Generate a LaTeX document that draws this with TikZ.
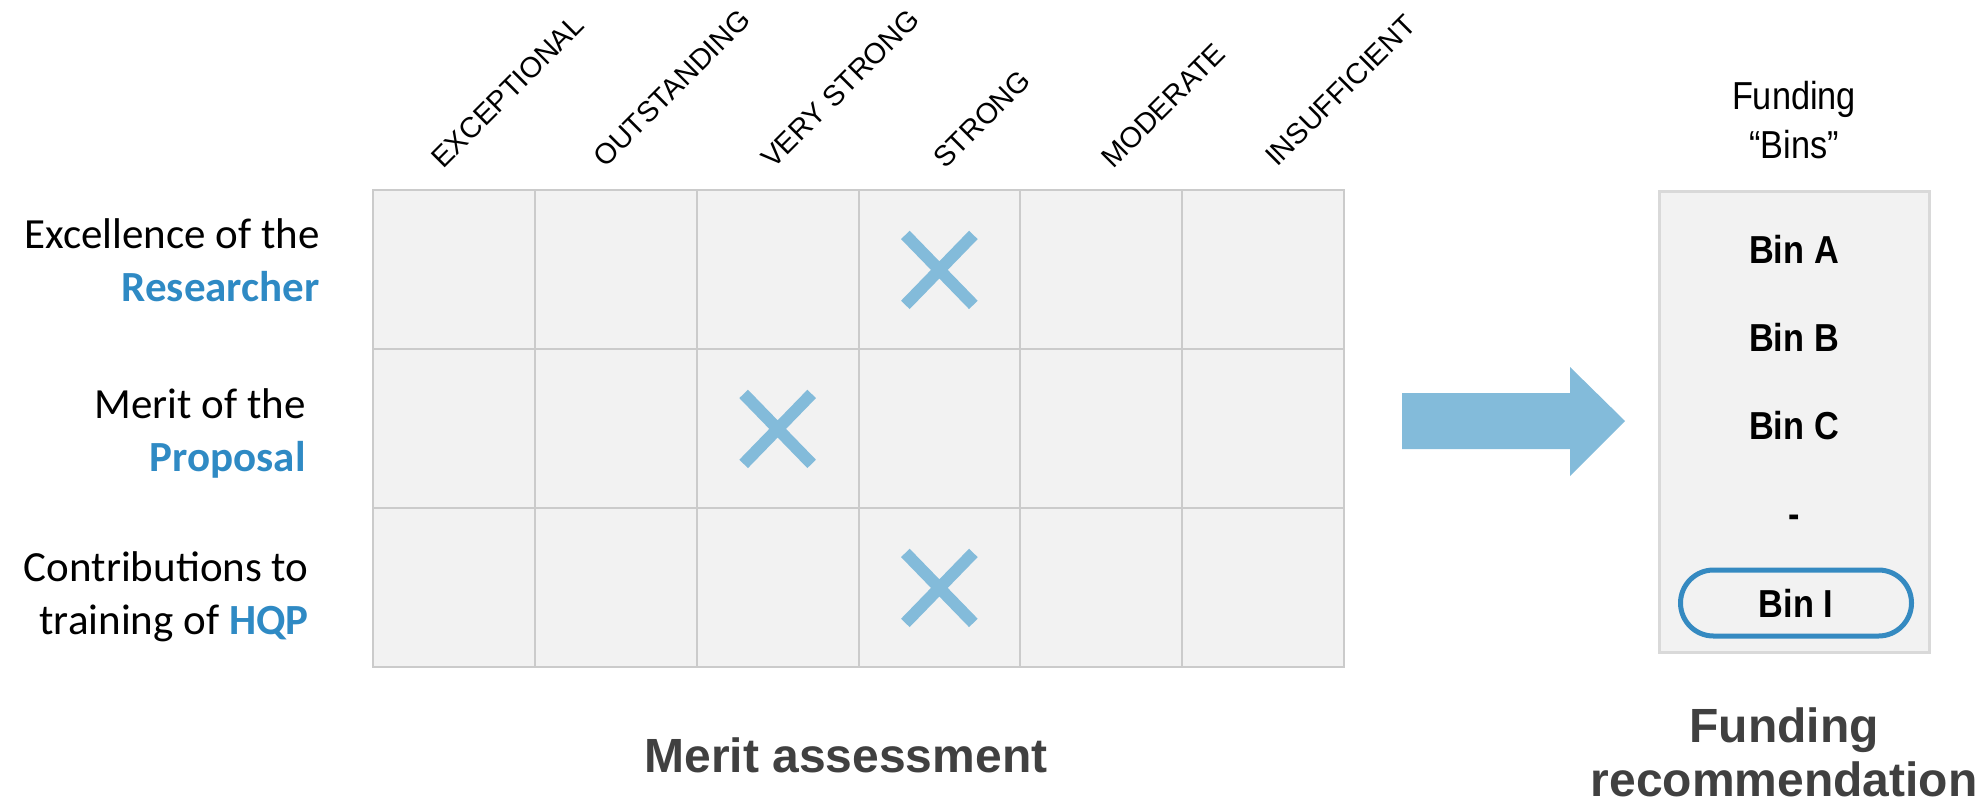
\documentclass[tikz,border=0pt]{standalone}
\usepackage{fontspec}
\setmainfont{Liberation Sans}
\newfontfamily\narrowfont{Liberation Sans}[FakeStretch=0.88]
\newfontfamily\critfont{Carlito}
\usepackage{tikz}
\usetikzlibrary{positioning,shapes.misc}

\definecolor{cellfill}{HTML}{F2F2F2}
\definecolor{gridline}{HTML}{CBCBCB}
\definecolor{binline}{HTML}{D9D9D9}
\definecolor{xblue}{HTML}{83BBDA}
\definecolor{critblue}{HTML}{2F8AC4}
\definecolor{pillblue}{HTML}{358AC1}
\definecolor{titlegrey}{HTML}{404040}

\begin{document}
\begin{tikzpicture}[x=0.5pt,y=-0.5pt,
cell/.style={draw=gridline,fill=cellfill,line width=1pt,minimum width=80.85pt,minimum height=79.5pt,inner sep=0pt,outer sep=0pt},
head/.style={rotate=45,anchor=base west,inner sep=0pt,font=\fontsize{14.4}{17}\selectfont},
crit/.style={anchor=east,align=right,inner sep=0pt,font=\critfont\fontsize{21.5}{26.5}\selectfont},
xmark/.style={cross out,draw=xblue,line width=6pt,minimum width=34pt,minimum height=35pt,inner sep=0pt,outer sep=0pt},
binlabel/.style={inner sep=0pt,font=\narrowfont\bfseries\fontsize{19.5}{23}\selectfont},
title/.style={align=center,inner sep=0pt,text=titlegrey,font=\bfseries\fontsize{24}{27}\selectfont}]
\useasboundingbox (0,0) rectangle (1981,805);

% merit grid
\matrix (grid) [anchor=north west,inner sep=0pt,row sep=-1pt,column sep=-1pt] at (372,189) {
\node (r1c1) [cell] {}; & \node (r1c2) [cell] {}; & \node (r1c3) [cell] {}; &
\node (r1c4) [cell] {}; & \node (r1c5) [cell] {}; & \node (r1c6) [cell] {}; \\
\node (r2c1) [cell] {}; & \node (r2c2) [cell] {}; & \node (r2c3) [cell] {}; &
\node (r2c4) [cell] {}; & \node (r2c5) [cell] {}; & \node (r2c6) [cell] {}; \\
\node (r3c1) [cell] {}; & \node (r3c2) [cell] {}; & \node (r3c3) [cell] {}; &
\node (r3c4) [cell] {}; & \node (r3c5) [cell] {}; & \node (r3c6) [cell] {}; \\
};

\node (hexc) [head] at (443,170) {EXCEPTIONAL};
\node (hout) [head] at (605,169) {OUTSTANDING};
\node (hvst) [head] at (773,170) {VERY STRONG};
\node (hstr) [head] at (945,170) {STRONG};
\node (hmod) [head] at (1113,170) {MODERATE};
\node (hins) [head] at (1277,168) {INSUFFICIENT};

\node (crit1) [crit] at (320,260) {Excellence of the\\\textcolor{critblue}{\bfseries Researcher}};
\node (crit2) [crit] at (306,433) {Merit of the\\\textcolor{critblue}{\bfseries Proposal}};
\node (crit3) [crit] at (309,597) {Contributions to\\training of \textcolor{critblue}{\bfseries HQP}};

\node (mark1) [xmark] at (r1c4) {};
\node (mark2) [xmark] at (r2c3) {};
\node (mark3) [xmark] at (r3c4) {};

% arrow to the bins
\fill[xblue] (1402,393) -- (1570,393) -- (1570,367) -- (1625,421) -- (1570,476) -- (1570,449) -- (1402,449) -- cycle;

% funding bins
\node (binbox) [draw=binline,fill=cellfill,line width=1.5pt,minimum width=135pt,minimum height=230.5pt,inner sep=0pt] at (1794,422) {};
\node (binhead) [align=center,inner sep=0pt,font=\narrowfont\fontsize{19.5}{24.5}\selectfont] at (1794,120) {Funding\\“Bins”};
\node (bina) [binlabel] at (1794,249) {Bin A};
\node (binb) [binlabel] at (1794,337) {Bin B};
\node (binc) [binlabel] at (1794,426) {Bin C};
\node (bindash) [binlabel] at (1794,521) {-};
\node (bini) [binlabel,rounded rectangle,draw=pillblue,line width=2.5pt,minimum width=115.5pt,minimum height=33pt] at (1796,603) {Bin I};

\node (merit) [title] at (846,755) {Merit assessment};
\node (fundrec) [title] at (1784,752) {Funding\\recommendation};
\end{tikzpicture}
\end{document}
